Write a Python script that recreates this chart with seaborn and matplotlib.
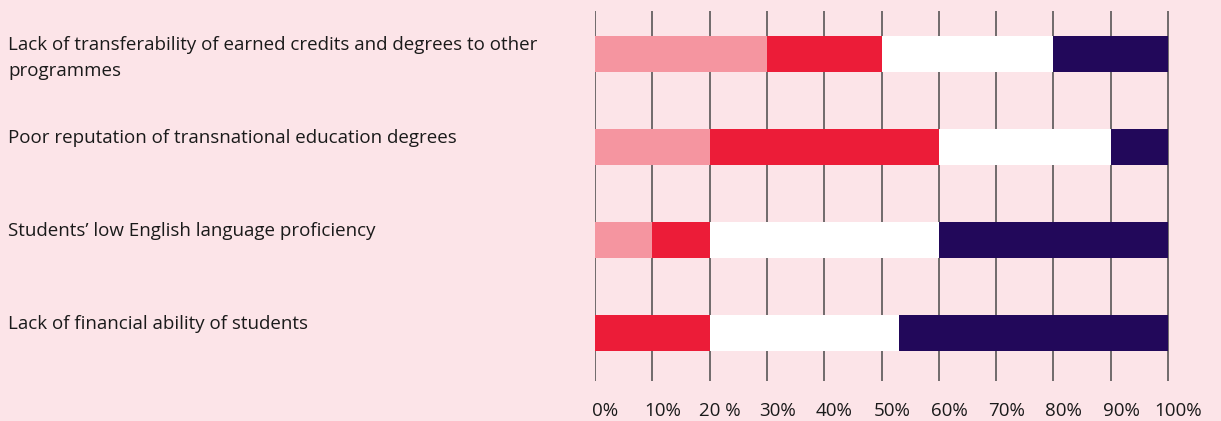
import matplotlib
matplotlib.use("Agg")
import matplotlib.pyplot as plt
import matplotlib.transforms as mtransforms
import seaborn as sns
import pandas as pd
import numpy as np

categories = [
    "Lack of transferability of earned credits and degrees to other\nprogrammes",
    "Poor reputation of transnational education degrees",
    "Students\u2019 low English language proficiency",
    "Lack of financial ability of students",
]
seg1 = [30, 20, 10, 0]    # light pink
seg2 = [20, 40, 10, 20]   # red
seg3 = [30, 30, 40, 33]   # white
seg4 = [20, 10, 40, 47]   # dark purple
tick_labels = ["0%", "10%", "20 %", "30%", "40%", "50%", "60%", "70%", "80%", "90%", "100%"]

colors = ["#f595a0", "#ec1c38", "#ffffff", "#22085a"]
bg = "#fce4e8"

sns.set_theme(style="white")
plt.rcParams['font.family'] = ['Open Sans', 'DejaVu Sans']

x_max = 104.0  # extra room on the right so shifted labels stay in view
px_per_unit = (1168 - 595) / 100
right_px = 595 + x_max * px_per_unit

fig = plt.figure(figsize=(12.21, 4.21), dpi=100, facecolor=bg)
ax = fig.add_axes([595/1221, 1 - 381/421, (right_px - 595)/1221, 370/421])
ax.set_facecolor(bg)

grid_vals = np.arange(0, 101, 10)
for x in grid_vals:
    ax.axvline(x, color="#4a4a4a", linewidth=1.1, zorder=0)

segs = np.array([seg1, seg2, seg3, seg4], dtype=float)
cum = np.cumsum(segs, axis=0)
keys = [f"k{i}" for i in range(len(categories))]

for i in range(3, -1, -1):
    df = pd.DataFrame({"cat": keys, "val": cum[i]})
    sns.barplot(data=df, y="cat", x="val", orient="h", color=colors[i],
                saturation=1, width=0.39, ax=ax, zorder=3, linewidth=0)

ax.set_xlim(0, x_max)
ax.set_ylim(3.52, -0.46)
ax.set_xticks(grid_vals + 1.8)
ax.set_xticklabels(tick_labels, fontsize=13.5, color="#1a1a1a")
ax.tick_params(axis="x", length=0, pad=15)
ax.set_yticks([])
ax.set_xlabel("")
ax.set_ylabel("")
for s in ax.spines.values():
    s.set_visible(False)

trans = mtransforms.blended_transform_factory(fig.transFigure, ax.transData)
for i, c in enumerate(categories):
    ax.text(8/1221, i - 0.19, c, transform=trans, ha="left", va="top",
            fontsize=13.5, color="#1a1a1a", linespacing=1.55, clip_on=False)

fig.savefig("out.png", dpi=100, facecolor=bg)
